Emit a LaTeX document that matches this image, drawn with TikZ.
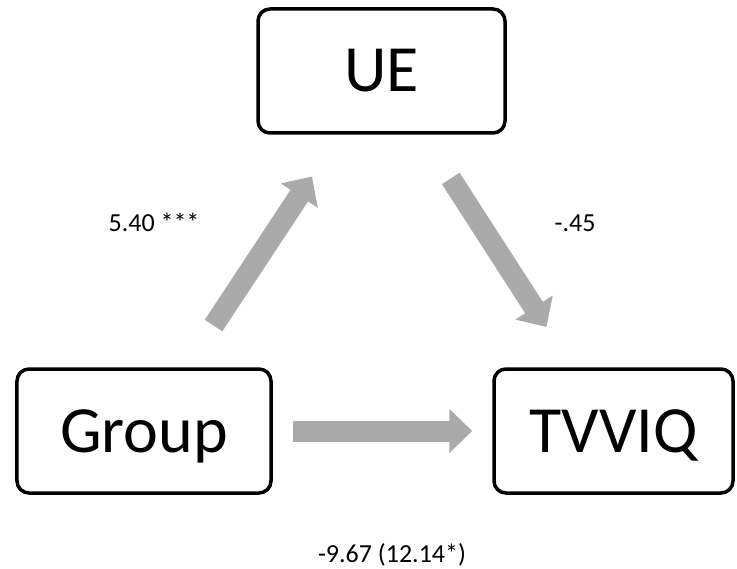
\documentclass[tikz,border=0pt]{standalone}
\usepackage{fontspec}
\setmainfont{Carlito}
\usetikzlibrary{arrows.meta}
\definecolor{arrowgray}{RGB}{170,170,170}

\begin{document}
\begin{tikzpicture}[x=1bp, y=-1bp,
    varbox/.style={draw, rounded corners=12bp, line width=3.5bp, minimum height=124bp,
      text height=42bp, text depth=0pt, font=\fontsize{66bp}{70bp}\selectfont},
    fatarrow/.style={draw=arrowgray, line width=21bp, -{Triangle[length=23bp, width=43bp]}},
    coef/.style={font=\fontsize{26bp}{30bp}\selectfont}]
  \useasboundingbox (0,0) rectangle (737,569);
  % variables
  \node[varbox, minimum width=247bp] (ue) at (381.5,71) {UE};
  \node[varbox, minimum width=254bp] (group) at (144,431) {Group};
  \node[varbox, minimum width=239bp] (tvviq) at (613.5,431) {TVVIQ};

  % paths
  \draw[fatarrow, shorten <=50bp, shorten >=50bp] (group) -- (ue);
  \draw[fatarrow, shorten <=52bp, shorten >=48bp] (ue) -- (tvviq);
  \draw[fatarrow, shorten <=20bp, shorten >=20bp] (group) -- (tvviq);

  % coefficients
  \node[coef] (a) at (154,222) {5.40 ***};
  \node[coef] (b) at (575,223) {-.45};
  \node[coef] (c) at (392,555) {-9.67 (12.14*)};
\end{tikzpicture}
\end{document}
